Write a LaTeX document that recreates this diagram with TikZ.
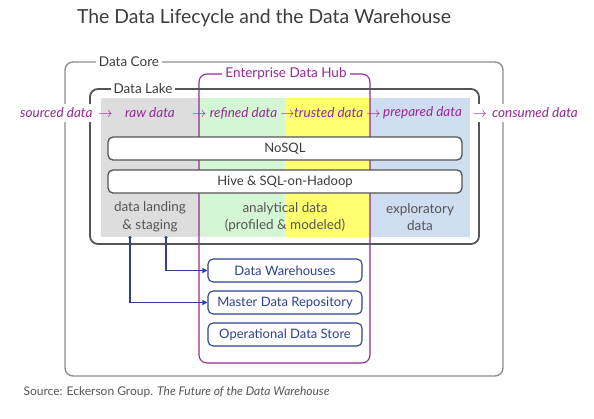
\documentclass[tikz,border=0pt]{standalone}
\usepackage{fontspec}
\setmainfont{Lato}
\usetikzlibrary{arrows.meta}

\definecolor{hubpurple}{RGB}{150,40,150}
\definecolor{whnavy}{RGB}{45,65,140}
\definecolor{textgray}{RGB}{60,60,60}
\definecolor{labelgray}{RGB}{85,85,85}
\definecolor{rawgray}{RGB}{221,221,221}
\definecolor{refgreen}{RGB}{213,246,213}
\definecolor{trustyellow}{RGB}{255,255,112}
\definecolor{prepblue}{RGB}{206,221,240}

\tikzset{
  frametag/.style={fill=white,inner sep=3pt,text=textgray,font=\fontsize{13.5}{15}\selectfont},
  flow/.style={text=hubpurple,inner sep=0pt,font=\fontsize{13.5}{15}\selectfont\itshape},
  layer/.style={draw=labelgray,line width=1.3pt,rounded corners=5pt,fill=white,
    minimum width=354pt,minimum height=23pt,text=textgray,font=\fontsize{13}{15}\selectfont},
  zone/.style={align=center,text=labelgray,font=\fontsize{13.5}{17.5}\selectfont},
  store/.style={draw=whnavy,line width=1.1pt,rounded corners=5pt,fill=white,
    minimum width=154pt,minimum height=23pt,text=whnavy,font=\fontsize{13}{15}\selectfont},
  link/.style={whnavy,line width=1.2pt,{Circle[length=3pt]}-{Triangle[length=5pt,width=5pt]}}
}

\begin{document}
\begin{tikzpicture}[x=1pt,y=-1pt]
  \useasboundingbox (0,0) rectangle (594,418);
  \node[text=textgray,font=\fontsize{19.4}{24}\selectfont] (title) at (264,18)
    {The Data Lifecycle and the Data Warehouse};
  % data core
  \draw[draw=gray!90,line width=1.4pt,rounded corners=8pt] (65,62) rectangle (503,376);
  \node[frametag] (core) at (129,62) {Data Core};
  % lifecycle stages
  \fill[rawgray] (101,98) rectangle (199,237);
  \fill[refgreen] (199,98) rectangle (285,237);
  \fill[trustyellow] (285,98) rectangle (370,237);
  \fill[prepblue] (370,98) rectangle (470,237);
  % enterprise data hub
  \draw[hubpurple,line width=1.1pt,rounded corners=8pt] (199,74) rectangle (370,363);
  \node[frametag,text=hubpurple] (hub) at (286,74) {Enterprise Data Hub};
  % data lake
  \draw[draw=labelgray,line width=1.8pt,rounded corners=8pt] (90,89) rectangle (479,244);
  \node[frametag] (lake) at (143,89) {Data Lake};
  \node[flow,anchor=west,fill=white,inner xsep=3pt,inner ysep=4pt] (sourced) at (17,113)
    {sourced data\rlap{\hspace{6pt}$\rightarrow$}};
  \node[flow] (raw) at (150,113) {raw data};
  \node[flow,anchor=west] (refined) at (192,113) {$\rightarrow$ refined data $\rightarrow$};
  \node[flow,anchor=west] (trusted) at (294,113) {trusted data $\rightarrow$};
  \node[flow,anchor=west] (prepared) at (383,113) {prepared data};
  \node[flow,anchor=east,fill=white,inner xsep=1.5pt,inner ysep=4pt] (consumed) at (579.5,113)
    {$\rightarrow$\hspace{5pt}consumed data};
  \node[layer] (nosql) at (285,148.5) {NoSQL};
  \node[layer] (hive) at (285,181.5) {Hive \& SQL-on-Hadoop};
  \node[zone] (landing) at (150,217) {data landing\\\& staging};
  \node[zone] (analytical) at (285,217) {analytical data\\(profiled \& modeled)};
  \node[zone] (exploratory) at (420,217) {exploratory\\data};
  % warehouse stores
  \node[store] (dw) at (285,270.5) {Data Warehouses};
  \node[store] (mdr) at (285,302.5) {Master Data Repository};
  \node[store] (ods) at (285,334.5) {Operational Data Store};
  \coordinate (stageA) at (130,236);
  \coordinate (stageB) at (166,236);
  \draw[link] (stageA) |- (mdr.west);
  \draw[link] (stageB) |- (dw.west);
  \node[anchor=west,text=labelgray,font=\fontsize{12}{14}\selectfont] (source) at (20,392)
    {Source: Eckerson Group. \textit{The Future of the Data Warehouse}};
\end{tikzpicture}
\end{document}
